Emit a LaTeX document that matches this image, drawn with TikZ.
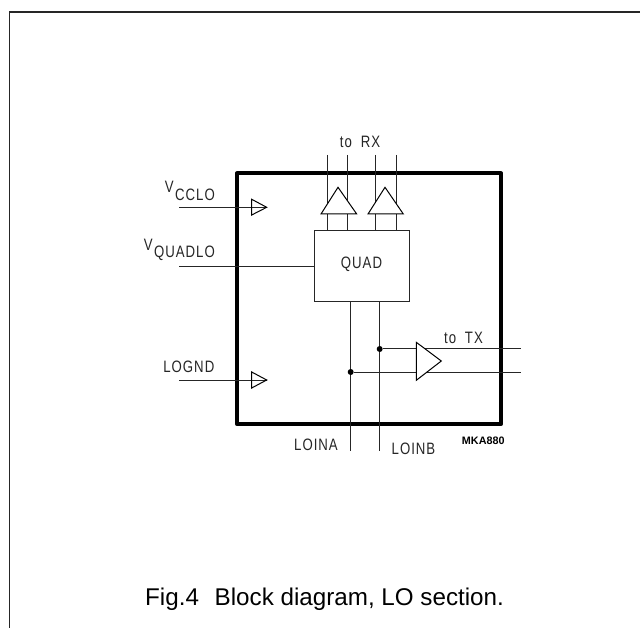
\documentclass[tikz,border=0pt]{standalone}
\usepackage{fontspec}
\setmainfont{Liberation Sans}
\newfontfamily\lblfont[LetterSpace=6,FakeStretch=0.8,WordSpace=1.9]{Liberation Sans}
\begin{document}
\begin{tikzpicture}[x=1pt,y=-1pt,
  wire/.style={line width=1pt,black!85},
  frameline/.style={line width=1.3pt,black!85},
  chip/.style={draw=black,line width=3.8pt,line join=round,minimum width=264pt,minimum height=251pt,inner sep=0pt},
  quadbox/.style={draw=black!85,line width=1pt,fill=white,minimum width=95pt,minimum height=71.4pt,inner sep=0pt},
  buf/.style={draw=black,line width=1pt,fill=white,line join=miter},
  lbl/.style={font=\lblfont\fontsize{16.5}{18}\selectfont,inner sep=0pt,anchor=base,text=black!85},
  dot/.style={circle,fill=black,inner sep=0pt,minimum size=6pt}]
\useasboundingbox (0,0) rectangle (640,628);
\fill[white] (0,0) rectangle (640,628);
\draw[frameline] (640,12) -- (9.5,12) -- (9.5,628);
\node[chip] (chip) at (369,298.8) {};
% terminals
\coordinate (vccin) at (179.3,207.3);
\coordinate (vccend) at (266.7,207.3);
\coordinate (gndin) at (179.3,380);
\coordinate (gndend) at (266.7,380);
\coordinate (vquad) at (179.3,266.7);
\coordinate (rxa) at (327,155);
\coordinate (rxb) at (347.7,155);
\coordinate (rxc) at (375.7,155);
\coordinate (rxd) at (396.7,155);
\coordinate (loa) at (350.7,450.7);
\coordinate (lob) at (379.7,450.7);
\coordinate (txa) at (521,349);
\coordinate (txb) at (521,372);
\coordinate (ampa) at (416.3,349);
\coordinate (ampb) at (416.3,372);
\node[quadbox] (quad) at (361.5,266) {};
\node[lbl,anchor=center] (quadt) at (361.5,264) {QUAD};
\draw[wire] (vccin) -- (vccend);
\draw[wire] (gndin) -- (gndend);
\draw[wire] (vquad) -- (vquad -| quad.west);
\draw[wire] (rxa) -- (rxa |- quad.north);
\draw[wire] (rxb) -- (rxb |- quad.north);
\draw[wire] (rxc) -- (rxc |- quad.north);
\draw[wire] (rxd) -- (rxd |- quad.north);
\draw[wire] (loa) -- (loa |- quad.south);
\draw[wire] (lob) -- (lob |- quad.south);
\node[dot] (dotb) at (379.7,349) {};
\node[dot] (dota) at (350.7,372) {};
\draw[wire] (dotb) -- (ampa);
\draw[wire] (dota) -- (ampb);
\draw[wire] (ampa) -- (txa);
\draw[wire] (ampb) -- (txb);
% buffers
\draw[buf] (321,214) -- (338,187.3) -- (356.7,214) -- cycle;
\draw[buf] (368,214) -- (385,187.3) -- (403.3,214) -- cycle;
\draw[buf] (416.3,342.3) -- (441.3,361) -- (416.3,380.3) -- cycle;
\draw[buf,fill=none] (251.7,199.3) -- (266.7,207.3) -- (251.7,215) -- cycle;
\draw[buf,fill=none] (251.7,372) -- (266.7,380) -- (251.7,388) -- cycle;
% labels
\node[lbl] (trx) at (360,148) {to RX};
\node[lbl] (ttx) at (463.5,344) {to TX};
\node[lbl,anchor=base east] (vcc) at (215,200.5) {\raisebox{7.5pt}{V}\kern1.5pt CCLO};
\node[lbl,anchor=base east] (vqd) at (215,257.5) {\raisebox{6.5pt}{V}\kern1.5pt QUADLO};
\node[lbl,anchor=base east] (lgnd) at (214.5,372.5) {LOGND};
\node[lbl,anchor=base east] (lna) at (338,450.5) {LOINA};
\node[lbl,anchor=base west] (lnb) at (391.5,454) {LOINB};
\node[font=\bfseries\fontsize{10.8}{12}\selectfont,inner sep=0pt,anchor=base] (mk) at (483.3,444) {MKA880};
\node[font=\fontsize{24.2}{28}\selectfont,inner sep=0pt,anchor=base west] (cap) at (145,605) {Fig.4\hspace{0.65em}Block diagram, LO section.};
\end{tikzpicture}
\end{document}
